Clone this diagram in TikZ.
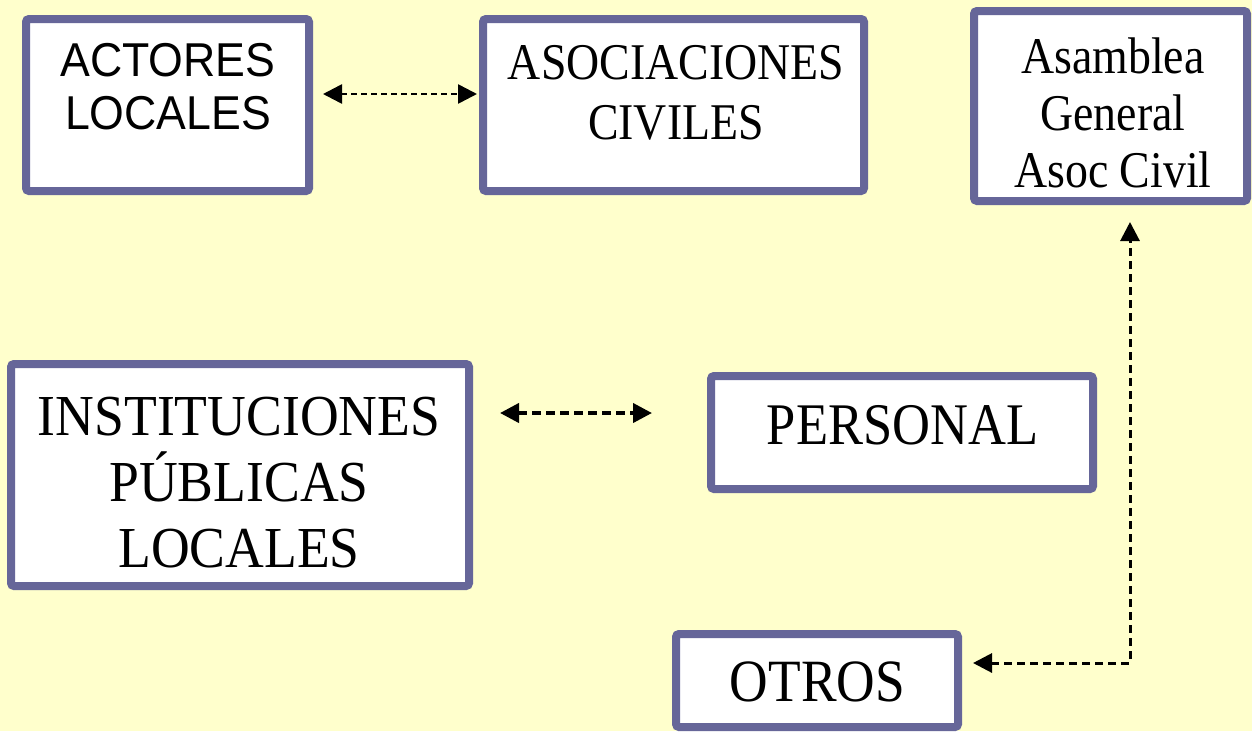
\documentclass[tikz,border=0pt]{standalone}
\usepackage{fontspec}
\setmainfont[FakeStretch=0.89]{Liberation Serif}
\newfontfamily\wideserif[FakeStretch=0.925]{Liberation Serif}
\newfontfamily\sansf[FakeStretch=0.94]{Liberation Sans}
\usetikzlibrary{arrows.meta}
\definecolor{bgyellow}{HTML}{FFFFCC}
\definecolor{framec}{HTML}{666699}
\begin{document}
\begin{tikzpicture}[x=1pt,y=-1pt,
  box/.style={rectangle, draw=framec, fill=white, line width=8pt, rounded corners=3pt, inner sep=0pt, outer sep=4pt},
  txt/.style={inner sep=0pt, outer sep=0pt, anchor=north, align=center},
  linkbase/.style={black, dashed, {Triangle[length=19pt,width=19pt]}-{Triangle[length=19pt,width=19pt]}},
  linkA/.style={linkbase, line width=2.6pt, dash pattern=on 6pt off 4pt},
  linkB/.style={linkbase, line width=4pt, dash pattern=on 9pt off 5pt},
  linkC/.style={linkbase, line width=3pt, dash pattern=on 8pt off 5pt}]
\fill[bgyellow] (0,0) rectangle (1252,731);
\useasboundingbox (0,0) rectangle (1252,731);

\node[box, minimum width=283pt, minimum height=172pt] (actores) at (167.5,105) {};
\node[box, minimum width=381pt, minimum height=172pt] (asoc) at (673.5,105) {};
\node[box, minimum width=273pt, minimum height=190pt] (asam) at (1110.5,106) {};
\node[box, minimum width=458pt, minimum height=222pt] (inst) at (240,475) {};
\node[box, minimum width=382pt, minimum height=113pt] (pers) at (902,432.5) {};
\node[box, minimum width=282pt, minimum height=93pt] (otros) at (817,680.5) {};

\node[txt, font=\sansf\fontsize{47.5}{53}\selectfont] (actT) at (168,43) {ACTORES\\LOCALES};
\node[txt, font=\fontsize{51.5}{60}\selectfont] (asocT) at (676,45) {ASOCIACIONES\\CIVILES};
\node[txt, font=\fontsize{51.5}{57}\selectfont] (asamT) at (1113,38) {Asamblea\\General\\Asoc Civil};
\node[txt, font=\wideserif\fontsize{58}{66}\selectfont] (instT) at (239,397) {INSTITUCIONES\\PÚBLICAS\\LOCALES};
\node[txt, font=\fontsize{59}{66}\selectfont] (persT) at (902.5,405) {PERSONAL};
\node[txt, font=\fontsize{60}{66}\selectfont] (otrosT) at (817.5,662) {OTROS};

\draw[linkA] ([shift={(10,-11)}]actores.east) -- ([shift={(-2,-11)}]asoc.west);
\draw[linkB] ([shift={(27,-62)}]inst.east) -- ([shift={(-55,-19.5)}]pers.west);
\draw[linkC] ([shift={(11,-17.5)}]otros.east) -| ([shift={(19.5,17)}]asam.south);
\end{tikzpicture}
\end{document}
